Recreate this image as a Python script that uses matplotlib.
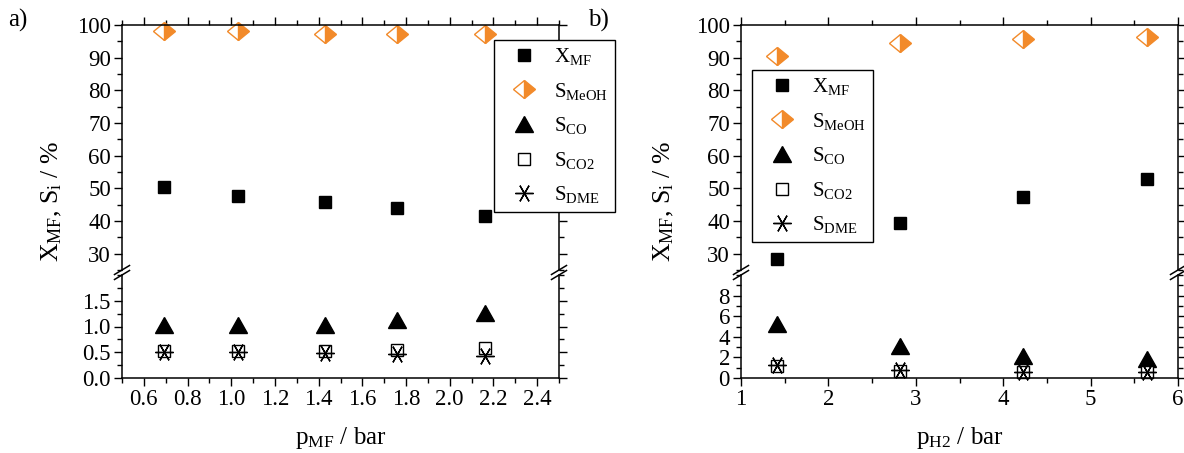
import matplotlib
matplotlib.use("Agg")
import matplotlib.pyplot as plt
from matplotlib.lines import Line2D
from matplotlib.markers import MarkerStyle
from matplotlib.transforms import Affine2D
from matplotlib.ticker import MultipleLocator

plt.rcParams['font.family'] = ['Liberation Serif', 'DejaVu Serif']
plt.rcParams['mathtext.fontset'] = 'custom'
plt.rcParams['mathtext.rm'] = 'Liberation Serif'
plt.rcParams['mathtext.it'] = 'Liberation Serif:italic'
plt.rcParams['font.size'] = 15

ORANGE = '#f28a2a'

# a) variation of methyl formate partial pressure
p_mf = [0.69, 1.03, 1.43, 1.76, 2.16]
x_mf_a = [50.4, 47.7, 45.8, 43.9, 41.6]
s_meoh_a = [98.2, 98.2, 97.3, 97.3, 97.3]
s_co_a = [1.02, 1.02, 1.03, 1.12, 1.26]
s_co2_a = [0.53, 0.52, 0.52, 0.55, 0.59]
s_dme_a = [0.50, 0.50, 0.49, 0.47, 0.42]

# b) variation of hydrogen partial pressure
p_h2 = [1.41, 2.82, 4.23, 5.64]
x_mf_b = [28.3, 39.4, 47.2, 52.9]
s_meoh_b = [90.5, 94.4, 95.8, 96.2]
s_co_b = [5.2, 3.1, 2.1, 1.8]
s_co2_b = [1.2, 0.71, 0.55, 0.55]
s_dme_b = [1.3, 0.8, 0.6, 0.6]

labels = [r'X$_\mathrm{MF}$', r'S$_\mathrm{MeOH}$', r'S$_\mathrm{CO}$',
          r'S$_\mathrm{CO2}$', r'S$_\mathrm{DME}$']

# slightly widened diamond / triangle markers
half_diamond = MarkerStyle('D', fillstyle='right', transform=Affine2D().scale(1.1, 0.95))
wide_triangle = MarkerStyle('^', transform=Affine2D().scale(1.15, 1.0))
asterisk = MarkerStyle((6, 2, 90))

W, H = 1184, 453
fig = plt.figure(figsize=(W / 100, H / 100), dpi=100)


def px(x0, y0, x1, y1):
    # pixel box -> figure fraction rect
    return [x0 / W, 1 - y1 / H, (x1 - x0) / W, (y1 - y0) / H]


def style(ax, top_part):
    ax.tick_params(which='both', direction='out', top=top_part, bottom=not top_part,
                   right=True, left=True, labelsize=16.5, pad=2, width=1.0)
    ax.tick_params(which='major', length=6)
    ax.tick_params(which='minor', length=3.5)
    for s in ax.spines.values():
        s.set_linewidth(1.1)
    if top_part:
        ax.spines['bottom'].set_visible(False)
        ax.tick_params(labelbottom=False)
    else:
        ax.spines['top'].set_visible(False)


def break_marks(ax_up, ax_lo):
    # slanted double marks on both vertical spines at the axis break
    y_up = ax_up.get_position().y0
    y_lo = ax_lo.get_position().y1
    for x in (ax_up.get_position().x0, ax_up.get_position().x1):
        for y in (y_up, y_lo):
            dx, dy = 7.5 / W, 4.5 / H
            fig.add_artist(Line2D([x - dx, x + dx], [y - dy, y + dy],
                                  color='black', lw=1.1))


def draw_panel(x0, x1, xs, x_mf, s_meoh, s_co, s_co2, s_dme,
               xlim, xmajor, xminor, lo_top, lo_major, lo_minor,
               xlabel, tag, ylab_x, legend_xy):
    ax_up = fig.add_axes(px(x0, 25, x1, 270))
    ax_lo = fig.add_axes(px(x0, 275, x1, 378), sharex=ax_up)

    # conversion and methanol selectivity on the upper scale
    h1, = ax_up.plot(xs, x_mf, ls='none', marker='s', ms=8.5, color='black',
                     label=labels[0], clip_on=False)
    h2, = ax_up.plot(xs, s_meoh, ls='none', marker=half_diamond, ms=10, mec=ORANGE,
                     mfc=ORANGE, mfcalt='white', mew=1.0, label=labels[1], clip_on=False)
    # by-product selectivities on the lower scale
    h3, = ax_lo.plot(xs, s_co, ls='none', marker=wide_triangle, ms=11, color='black',
                     label=labels[2], clip_on=False)
    h4, = ax_lo.plot(xs, s_co2, ls='none', marker='s', ms=9, mfc='white', mec='black',
                     mew=1.0, label=labels[3], clip_on=False)
    h5, = ax_lo.plot(xs, s_dme, ls='none', marker=asterisk, ms=13, color='black',
                     mew=1.0, label=labels[4], clip_on=False)

    ax_up.set_ylim(25, 100)
    ax_up.set_yticks([30, 40, 50, 60, 70, 80, 90, 100])
    ax_up.yaxis.set_minor_locator(MultipleLocator(5))

    ax_lo.set_ylim(0, lo_top)
    ax_lo.set_yticks(lo_major)
    ax_lo.yaxis.set_minor_locator(MultipleLocator(lo_minor))

    ax_lo.set_xlim(*xlim)
    ax_lo.set_xticks(xmajor)
    ax_lo.xaxis.set_minor_locator(MultipleLocator(xminor))

    style(ax_up, True)
    style(ax_lo, False)
    break_marks(ax_up, ax_lo)

    ax_lo.set_xlabel(xlabel, fontsize=18, labelpad=11)
    fig.text(ylab_x / W, 1 - 201 / H, r'X$_\mathrm{MF}$, S$_\mathrm{i}$ / %',
             rotation=90, ha='center', va='center', fontsize=18.5)
    fig.text(tag / W, 1 - 20 / H, tag_text[tag], ha='left', va='center', fontsize=18)

    leg = ax_up.legend(handles=[h1, h2, h3, h4, h5], loc='upper left',
                       bbox_to_anchor=(legend_xy[0] / W, 1 - legend_xy[1] / H),
                       bbox_transform=fig.transFigure, numpoints=1, fontsize=15,
                       frameon=True, fancybox=False, edgecolor='black', framealpha=1,
                       handlelength=2.3, handletextpad=0.3, labelspacing=0.65,
                       borderpad=0.3, borderaxespad=0)
    leg.get_frame().set_linewidth(1.0)
    leg.set_zorder(10)
    return ax_up, ax_lo


tag_text = {8: 'a)', 588: 'b)'}

draw_panel(122, 559, p_mf, x_mf_a, s_meoh_a, s_co_a, s_co2_a, s_dme_a,
           (0.5, 2.5), [0.6, 0.8, 1.0, 1.2, 1.4, 1.6, 1.8, 2.0, 2.2, 2.4], 0.1,
           2.0, [0.0, 0.5, 1.0, 1.5], 0.25,
           r'p$_\mathrm{MF}$ / bar', 8, 52, (494, 40))

draw_panel(741, 1178, p_h2, x_mf_b, s_meoh_b, s_co_b, s_co2_b, s_dme_b,
           (1, 6), [1, 2, 3, 4, 5, 6], 0.5,
           10, [0, 2, 4, 6, 8], 1,
           r'p$_\mathrm{H2}$ / bar', 588, 664, (752, 70))

fig.savefig('out.png', dpi=100)
